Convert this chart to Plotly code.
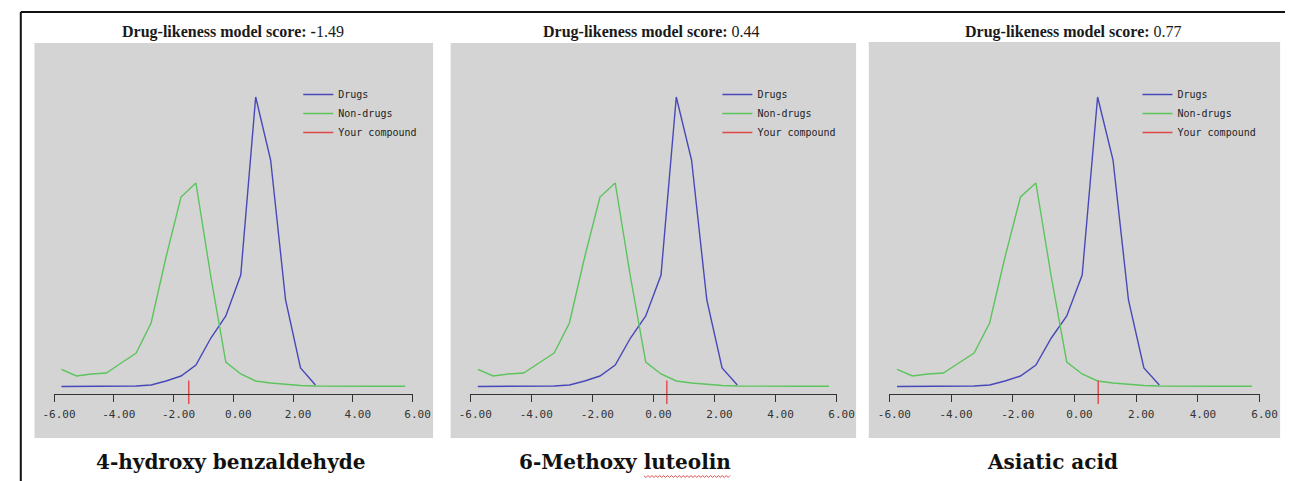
import plotly.graph_objects as go

W, H = 1303, 481

# ---- data ----
score_bins = [-5.75, -5.25, -4.75, -4.25, -3.75, -3.25, -2.75, -2.25, -1.75, -1.25,
              -0.75, -0.25, 0.25, 0.75, 1.25, 1.75, 2.25, 2.75, 3.25, 3.75,
              4.25, 4.75, 5.25, 5.75]
drugs = [0.0005, 0.0005, 0.0005, 0.0005, 0.0008, 0.001, 0.002, 0.006, 0.011, 0.022,
         0.049, 0.071, 0.112, 0.290, 0.227, 0.087, 0.019, 0.002]
non_drugs = [0.0177, 0.011, 0.013, 0.014, 0.024, 0.034, 0.064, 0.130, 0.190, 0.204,
             0.110, 0.025, 0.013, 0.006, 0.004, 0.0025, 0.0015, 0.001, 0.0008, 0.0008,
             0.0008, 0.0008, 0.0008, 0.0008]
compounds = ["4-hydroxy benzaldehyde", "6-Methoxy luteolin", "Asiatic acid"]
scores = [-1.49, 0.44, 0.77]
marker_span = [0.0065, -0.017]
tick_vals = [-6, -4, -2, 0, 2, 4, 6]
tick_text = ["-6.00", "-4.00", "-2.00", "0.00", "2.00", "4.00", "6.00"]

BLUE = "#4848b8"
GREEN = "#5cc45c"
RED = "#e04848"
GRAY = "#d4d4d4"
AX = "#333333"


def px(x):
    return x / W


def py(y):
    return 1 - y / H


panel_boxes = [(23, 43, 431, 438), (449, 43, 864, 438), (877, 42, 1298, 438)]
axis_px = [(43, 410), (469, 844), (898, 1277)]
legend_text_x = [341, 770, 1200]
title_cx = [226, 655, 1087]
label_cx = [224, 627, 1065]

fig = go.Figure()
layout = dict(
    width=W, height=H, margin=dict(l=0, r=0, t=0, b=0),
    paper_bgcolor="white", plot_bgcolor="rgba(0,0,0,0)",
    shapes=[], annotations=[],
)

for i in range(3):
    n = "" if i == 0 else str(i + 1)
    xa, ya = "x" + n, "y" + n
    leg = "legend" + n
    fig.add_trace(go.Scatter(x=score_bins[:len(drugs)], y=drugs, mode="lines",
                             line=dict(color=BLUE, width=1.4), name="Drugs",
                             xaxis=xa, yaxis=ya, legend=leg))
    fig.add_trace(go.Scatter(x=score_bins, y=non_drugs, mode="lines",
                             line=dict(color=GREEN, width=1.4), name="Non-drugs",
                             xaxis=xa, yaxis=ya, legend=leg))
    fig.add_trace(go.Scatter(x=[scores[i], scores[i]], y=marker_span, mode="lines",
                             line=dict(color=RED, width=1.4), name="Your compound",
                             xaxis=xa, yaxis=ya, legend=leg))

    layout["xaxis" + n] = dict(
        domain=[px(axis_px[i][0]), px(axis_px[i][1])], range=[-6, 6],
        anchor="free", position=py(394),
        tickvals=tick_vals, ticktext=tick_text, ticks="outside", ticklen=7,
        tickwidth=1.3, tickcolor=AX, showline=True, linecolor=AX, linewidth=1.3,
        showgrid=False, zeroline=False, ticklabelshift=5, ticklabelstandoff=3,
        tickfont=dict(family="DejaVu Sans Mono", size=11, color=AX),
    )
    layout["yaxis" + n] = dict(
        domain=[py(410), py(60)], range=[-0.023, 0.327], visible=False,
        anchor=xa,
    )
    layout[leg] = dict(
        x=px(legend_text_x[i] - 48), y=py(80), xanchor="left", yanchor="top",
        bgcolor="rgba(0,0,0,0)", borderwidth=0,
        font=dict(family="DejaVu Sans Mono", size=10, color="#222"),
    )

    x0, y0, x1, y1 = panel_boxes[i]
    layout["shapes"].append(dict(type="rect", xref="paper", yref="paper",
                                 x0=px(x0), x1=px(x1), y0=py(y1), y1=py(y0),
                                 fillcolor=GRAY, line=dict(width=0), layer="below"))

    s = scores[i]
    if s < 0:
        title = "<b>Drug-likeness model score: -</b>%.2f" % abs(s)
    else:
        title = "<b>Drug-likeness model score:</b> %.2f" % s
    layout["annotations"].append(dict(
        text=title, x=px(title_cx[i]), y=py(32), xref="paper", yref="paper",
        xanchor="center", yanchor="middle", showarrow=False,
        font=dict(family="Liberation Serif", size=16, color="#1a1a1a")))
    layout["annotations"].append(dict(
        text="<b>%s</b>" % compounds[i], x=px(label_cx[i]), y=py(462),
        xref="paper", yref="paper", xanchor="center", yanchor="middle",
        showarrow=False, font=dict(family="DejaVu Serif", size=20, color="#111")))

# spell-check squiggle under "luteolin"
sq = "M %.5f %.5f" % (px(647), py(476))
k = 0
xx = 647
while xx < 735:
    xx += 2
    k += 1
    sq += " L %.5f %.5f" % (px(xx), py(477.5 if k % 2 else 475.5))
layout["shapes"].append(dict(type="path", xref="paper", yref="paper", path=sq,
                             line=dict(color="#e05050", width=1)))

# outer frame (top and left edges)
layout["shapes"].append(dict(type="line", xref="paper", yref="paper",
                             x0=px(9), x1=1, y0=py(12), y1=py(12),
                             line=dict(color="#111", width=2)))
layout["shapes"].append(dict(type="line", xref="paper", yref="paper",
                             x0=px(9), x1=px(9), y0=py(12), y1=0,
                             line=dict(color="#111", width=2)))

fig.update_layout(**layout)
fig.write_html("out.html")
